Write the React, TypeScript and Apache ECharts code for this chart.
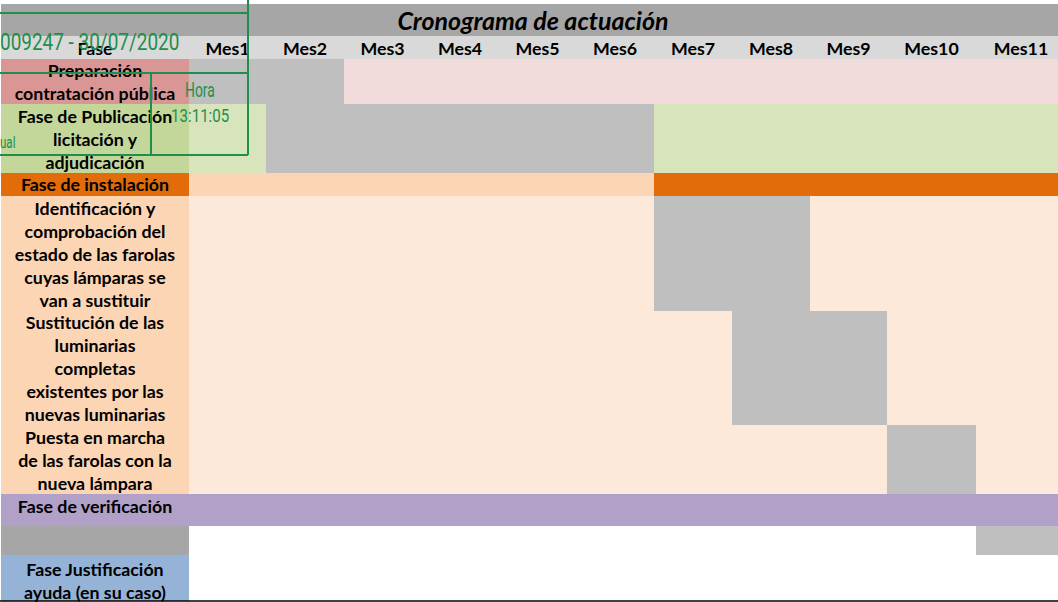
import React, { useEffect, useRef } from 'react';
import * as echarts from 'echarts';

// ---------- data ----------
const title = 'Cronograma de actuación';
const headerLabel = 'Fase';
const months = ['Mes1', 'Mes2', 'Mes3', 'Mes4', 'Mes5', 'Mes6', 'Mes7', 'Mes8', 'Mes9', 'Mes10', 'Mes11'];
const phases = [
  'Preparación\ncontratación pública',
  'Fase de Publicación\nlicitación y\nadjudicación',
  'Fase de instalación',
  'Identificación y\ncomprobación del\nestado de las farolas\ncuyas lámparas se\nvan a sustituir',
  'Sustitución de las\nluminarias\ncompletas\nexistentes por las\nnuevas luminarias',
  'Puesta en marcha\nde las farolas con la\nnueva lámpara',
  'Fase de verificación',
  '',
  'Fase Justificación\nayuda (en su caso)',
];
// first and last active month (1-based), 0 = none
const activeStart = [1, 2, 7, 7, 8, 10, 0, 11, 0];
const activeEnd = [2, 6, 11, 8, 9, 10, 0, 11, 0];
const stampDate = '009247 - 30/07/2020';
const stampHourLabel = 'Hora';
const stampHour = '13:11:05';
const stampTail = 'ual';

// ---------- layout / styles ----------
const W = 1058;
const H = 602;
const colEdges = [1, 189, 266, 344, 421, 499, 576, 654, 732, 810, 887, 976, 1066];
const rowEdges = [4, 36, 59, 104, 173, 196, 311, 425, 494, 526, 555, 601];
const rowStyles = [
  { label: '#da9694', bg: '#f2dcdb', active: '#bfbfbf', dy: 0 },
  { label: '#c4d79b', bg: '#d8e4bc', active: '#bfbfbf', dy: 0 },
  { label: '#e26b0a', bg: '#fcd5b4', active: '#e26b0a', dy: -1 },
  { label: '#fcd5b4', bg: '#fde9d9', active: '#bfbfbf', dy: 0 },
  { label: '#fcd5b4', bg: '#fde9d9', active: '#bfbfbf', dy: 0 },
  { label: '#fcd5b4', bg: '#fde9d9', active: '#bfbfbf', dy: 0 },
  { label: '#b1a0c7', bg: '#b1a0c7', active: '#bfbfbf', dy: -4 },
  { label: '#a6a6a6', bg: '#ffffff', active: '#bfbfbf', dy: 0 },
  { label: '#95b3d7', bg: '#ffffff', active: '#bfbfbf', dy: 2 },
];
const FONT = 'Lato, "Open Sans", sans-serif';
const cellFont = `bold 17.8px ${FONT}`;
const titleFont = `italic bold 25px ${FONT}`;
const stampColor = '#1f8f4c';
const stampFont = 'Roboto, "Liberation Sans", sans-serif';

type Cell = { x0: number; x1: number; y0: number; y1: number; fill: string; text: string; font: string; tx: number; dy: number };

function buildCells(): Cell[] {
  const cells: Cell[] = [];
  const last = colEdges.length - 1;
  cells.push({ x0: colEdges[0], x1: colEdges[last], y0: rowEdges[0], y1: rowEdges[1], fill: '#a6a6a6', text: title, font: titleFont, tx: 533, dy: 0 });
  cells.push({ x0: colEdges[0], x1: colEdges[1], y0: rowEdges[1], y1: rowEdges[2], fill: '#d9d9d9', text: headerLabel, font: cellFont, tx: NaN, dy: 0 });
  months.forEach((m, i) => {
    cells.push({ x0: colEdges[i + 1], x1: colEdges[i + 2], y0: rowEdges[1], y1: rowEdges[2], fill: '#d9d9d9', text: m, font: cellFont, tx: NaN, dy: 0 });
  });
  phases.forEach((p, r) => {
    const st = rowStyles[r];
    const y0 = rowEdges[r + 2];
    const y1 = rowEdges[r + 3];
    cells.push({ x0: colEdges[0], x1: colEdges[1], y0, y1, fill: st.label, text: p, font: cellFont, tx: NaN, dy: st.dy });
    months.forEach((_, i) => {
      const m = i + 1;
      const on = activeStart[r] > 0 && m >= activeStart[r] && m <= activeEnd[r];
      cells.push({ x0: colEdges[i + 1], x1: colEdges[i + 2], y0, y1, fill: on ? st.active : st.bg, text: '', font: cellFont, tx: NaN, dy: 0 });
    });
  });
  return cells;
}

export default function App() {
  const ref = useRef<HTMLDivElement>(null);
  useEffect(() => {
    document.body.style.margin = '0';
    if (!ref.current) return;
    const chart = echarts.init(ref.current, undefined, { renderer: 'svg' });
    const cells = buildCells();
    const Z = 100;
    const option: any = {
      animation: false,
      grid: { left: 0, right: 0, top: 0, bottom: 0 },
      xAxis: { type: 'value', min: 0, max: W, show: false },
      yAxis: { type: 'value', min: 0, max: H, inverse: true, show: false },
      series: [
        {
          type: 'custom',
          clip: false,
          silent: true,
          encode: { x: [0, 2], y: [1, 3] },
          data: cells.map((c) => [c.x0, c.y0, c.x1, c.y1]),
          renderItem: (params: any, api: any) => {
            const c = cells[params.dataIndex];
            const p0 = api.coord([api.value(0), api.value(1)]);
            const p1 = api.coord([api.value(2), api.value(3)]);
            const children: any[] = [
              { type: 'rect', shape: { x: p0[0], y: p0[1], width: p1[0] - p0[0], height: p1[1] - p0[1] }, style: { fill: c.fill } },
            ];
            if (c.text) {
              const cx = isNaN(c.tx) ? (p0[0] + p1[0]) / 2 : api.coord([c.tx, 0])[0];
              children.push({
                type: 'text',
                style: {
                  text: c.text,
                  x: cx,
                  y: (p0[1] + p1[1]) / 2 + c.dy,
                  align: 'center',
                  verticalAlign: 'middle',
                  font: c.font,
                  lineHeight: 23,
                  fill: '#000000',
                },
              });
            }
            return { type: 'group', children };
          },
        },
      ],
      graphic: [
        { type: 'line', z: Z, shape: { x1: 0, y1: 13, x2: 248, y2: 13 }, style: { stroke: stampColor, lineWidth: 2 } },
        { type: 'line', z: Z, shape: { x1: 248, y1: 0, x2: 248, y2: 155 }, style: { stroke: stampColor, lineWidth: 2 } },
        { type: 'line', z: Z, shape: { x1: 0, y1: 73, x2: 248, y2: 73 }, style: { stroke: stampColor, lineWidth: 2 } },
        { type: 'line', z: Z, shape: { x1: 151, y1: 73, x2: 151, y2: 155 }, style: { stroke: stampColor, lineWidth: 2 } },
        { type: 'line', z: Z, shape: { x1: 0, y1: 155, x2: 248, y2: 155 }, style: { stroke: stampColor, lineWidth: 2 } },
        { type: 'text', z: Z, x: 0, y: 42, scaleX: 0.79, style: { text: stampDate, fill: stampColor, font: `24px ${stampFont}`, verticalAlign: 'middle', align: 'left' } },
        { type: 'text', z: Z, x: 185, y: 89, scaleX: 0.66, style: { text: stampHourLabel, fill: stampColor, font: `21px ${stampFont}`, verticalAlign: 'middle', align: 'left' } },
        { type: 'text', z: Z, x: 171, y: 116, scaleX: 0.84, style: { text: stampHour, fill: stampColor, font: `18px ${stampFont}`, verticalAlign: 'middle', align: 'left' } },
        { type: 'text', z: Z, x: 0, y: 143, scaleX: 0.68, style: { text: stampTail, fill: stampColor, font: `17px ${stampFont}`, verticalAlign: 'middle', align: 'left' } },
        { type: 'line', z: Z, shape: { x1: 0, y1: 601, x2: W, y2: 601 }, style: { stroke: '#000000', lineWidth: 1.5 } },
      ],
    };
    chart.setOption(option);
    return () => chart.dispose();
  }, []);
  return <div ref={ref} style={{ width: W, height: H }} />;
}
